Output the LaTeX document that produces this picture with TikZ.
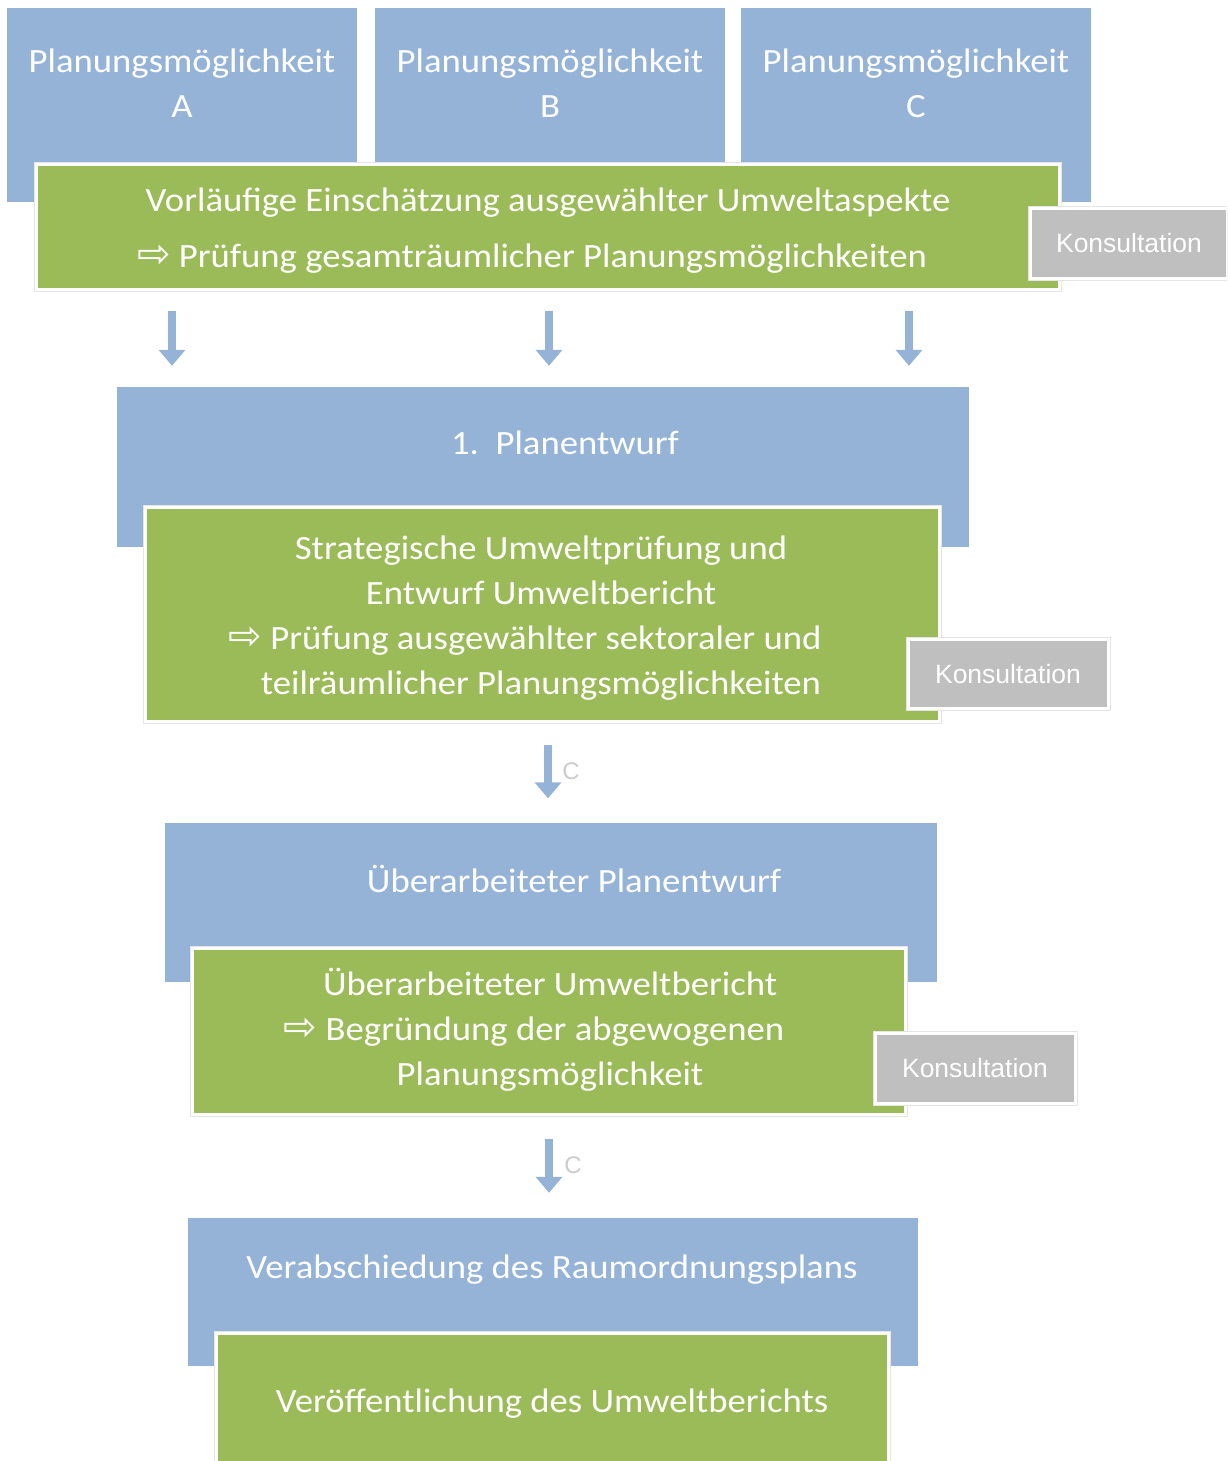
\documentclass[tikz,border=0pt]{standalone}
\usepackage{fontspec}
\setmainfont[FakeStretch=1.08]{Carlito}
\newfontfamily\konsfont{Liberation Sans}
\newfontfamily\symfont{DejaVu Sans}
\usetikzlibrary{arrows.meta}
\definecolor{planblue}{HTML}{95B3D7}
\definecolor{pruefgreen}{HTML}{9BBB59}
\definecolor{konsgray}{HTML}{BFBFBF}
\tikzset{
	bluebox/.style={fill=planblue, draw=none, inner sep=0pt},
	greenbox/.style={fill=pruefgreen, draw=white, line width=3pt,
		preaction={draw=black!10, line width=5pt}, inner sep=0pt},
	konsbox/.style={fill=konsgray, draw=white, line width=3pt,
		preaction={draw=black!10, line width=5pt}, inner sep=0pt,
		text=white, font=\konsfont\fontsize{26.5}{30}\selectfont},
	boxtext/.style={text=white, align=center, inner sep=0pt,
		font=\fontsize{34}{45}\selectfont},
	flowarrow/.style={planblue, line width=8pt, -{Triangle[width=26pt,length=16pt]}},
	cmark/.style={text=black!20, font=\konsfont\fontsize{24}{26}\selectfont},
}
\newcommand{\folgt}{{\symfont\fontsize{40}{40}\selectfont ⇨}}
\newcommand{\zeilenende}{\kern32pt\null}

\begin{document}
\begin{tikzpicture}[x=1pt,y=-1pt]
\useasboundingbox (0,0) rectangle (1227,1461);
\clip (0,0) rectangle (1227,1461);
% Planungsmoeglichkeiten
\node[bluebox, minimum width=350pt, minimum height=194pt] (pmA) at (182,105) {};
\node[bluebox, minimum width=350pt, minimum height=194pt] (pmB) at (550,105) {};
\node[bluebox, minimum width=350pt, minimum height=194pt] (pmC) at (916,105) {};
\node[boxtext] (pmAtext) at (182,83) {Planungsmöglichkeit\\A};
\node[boxtext] (pmBtext) at (550,83) {Planungsmöglichkeit\\B};
\node[boxtext] (pmCtext) at (916,83) {Planungsmöglichkeit\\C};
\node[greenbox, minimum width=1023pt, minimum height=125pt] (vorl) at (548,227) {};
\node[boxtext, font=\fontsize{34}{56}\selectfont] (vorltext) at (548,231)
	{Vorläufige Einschätzung ausgewählter Umweltaspekte\\\folgt\ Prüfung gesamträumlicher Planungsmöglichkeiten\zeilenende};
\node[konsbox, minimum width=197pt, minimum height=70pt] (kons1) at (1129,243) {Konsultation};

% 1. Planentwurf
\node[bluebox, minimum width=852pt, minimum height=160pt] (entwurf) at (543,467) {};
\node[boxtext] (entwurftext) at (565,443) {1.\ \ Planentwurf};
\node[greenbox, minimum width=794pt, minimum height=214pt] (sup) at (542,614) {};
\node[boxtext] (suptext) at (541,618) {Strategische Umweltprüfung und\\Entwurf Umweltbericht\\\folgt\ Prüfung ausgewählter sektoraler und\zeilenende\\teilräumlicher Planungsmöglichkeiten};
\node[konsbox, minimum width=200pt, minimum height=69pt] (kons2) at (1008,674) {Konsultation};

% Ueberarbeiteter Planentwurf
\node[bluebox, minimum width=772pt, minimum height=159pt] (ueber) at (551,902) {};
\node[boxtext] (uebertext) at (574,879) {Überarbeiteter Planentwurf};
\node[greenbox, minimum width=713pt, minimum height=166pt] (bericht) at (549,1031) {};
\node[boxtext] (berichttext) at (550,1030) {Überarbeiteter Umweltbericht\\\folgt\ Begründung der abgewogenen\zeilenende\\Planungsmöglichkeit};
\node[konsbox, minimum width=200pt, minimum height=70pt] (kons3) at (975,1068) {Konsultation};

% Verabschiedung
\node[bluebox, minimum width=730pt, minimum height=148pt] (verab) at (553,1292) {};
\node[boxtext] (verabtext) at (552,1270) {Verabschiedung des Raumordnungsplans};
\node[greenbox, minimum width=672pt, minimum height=141pt] (veroeff) at (552,1404) {};
\node[boxtext] (veroefftext) at (552,1404) {Veröffentlichung des Umweltberichts};

% Pfeile
\draw[flowarrow, shorten <=20pt, shorten >=21pt] (vorl.south -| 172,0) -- (entwurf.north -| 172,0);
\draw[flowarrow, shorten <=20pt, shorten >=21pt] (vorl.south -| 549,0) -- (entwurf.north -| 549,0);
\draw[flowarrow, shorten <=20pt, shorten >=21pt] (vorl.south -| 909,0) -- (entwurf.north -| 909,0);
\draw[flowarrow, shorten <=22pt, shorten >=24pt] (sup.south -| 548,0) -- (ueber.north -| 548,0);
\node[cmark] (c1) at (571,771) {C};
\draw[flowarrow, shorten <=23pt, shorten >=25pt] (bericht.south -| 549,0) -- (verab.north -| 549,0);
\node[cmark] (c2) at (573,1165) {C};
\end{tikzpicture}
\end{document}
